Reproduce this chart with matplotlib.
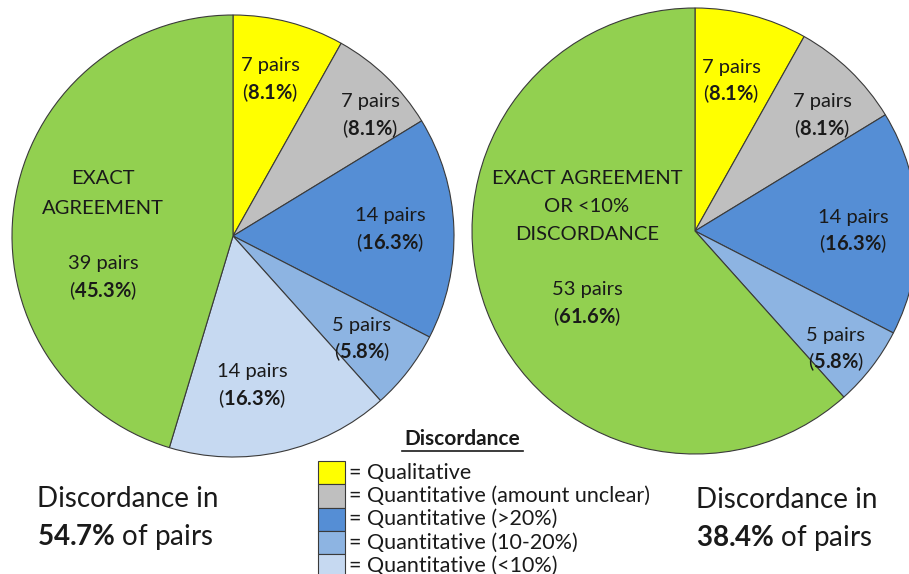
import matplotlib.pyplot as plt
from matplotlib.patches import Rectangle

plt.rcParams['font.family'] = ['Lato', 'DejaVu Sans']
plt.rcParams['mathtext.fontset'] = 'custom'
plt.rcParams['mathtext.rm'] = 'Lato'
plt.rcParams['mathtext.bf'] = 'Lato:bold'

# dados
categorias = ['Qualitative', 'Quantitative (amount unclear)', 'Quantitative (>20%)',
              'Quantitative (10-20%)', 'Quantitative (<10%)', 'Exact']
cores = ['#FFFF00', '#BFBFBF', '#558ED5', '#8DB4E2', '#C6D9F1', '#92D050']
pares_esq = [7, 7, 14, 5, 14, 39]
pct_esq = ['8.1', '8.1', '16.3', '5.8', '16.3', '45.3']
pares_dir = [7, 7, 14, 5, 53]
pct_dir = ['8.1', '8.1', '16.3', '5.8', '61.6']
cores_dir = ['#FFFF00', '#BFBFBF', '#558ED5', '#8DB4E2', '#92D050']
legenda = ['= Qualitative', '= Quantitative (amount unclear)', '= Quantitative (>20%)',
           '= Quantitative (10-20%)', '= Quantitative (<10%)']

W, H = 909, 574
fig = plt.figure(figsize=(W / 100, H / 100), dpi=100)
ax = fig.add_axes([0, 0, 1, 1])

ax.pie(pares_esq, colors=cores, startangle=90, counterclock=False,
       center=(233, H - 236), radius=221,
       wedgeprops=dict(edgecolor='#3a3a3a', linewidth=0.8))
ax.pie(pares_dir, colors=cores_dir, startangle=90, counterclock=False,
       center=(695, H - 231), radius=223,
       wedgeprops=dict(edgecolor='#3a3a3a', linewidth=0.8))
ax.set_xlim(0, W)
ax.set_ylim(0, H)
ax.set_aspect('equal')
ax.axis('off')

fs = 14.5
cor_txt = '#1a1a1a'


def rotulo(x, y, n, p):
    ax.text(x, H - y, f'{n} pairs', ha='center', va='center', fontsize=fs, color=cor_txt)
    ax.text(x, H - y - 27, '(' + r'$\mathbf{' + p + r'\%}$' + ')', ha='center', va='center',
            fontsize=fs, color=cor_txt)


# rotulos pizza esquerda
pos_esq = [(270, 66), (370, 102), (390, 216), (362, 325), (252, 372)]
for (x, y), n, p in zip(pos_esq, pares_esq, pct_esq):
    rotulo(x, y, n, p)
ax.text(103, H - 178, 'EXACT', ha='center', va='center', fontsize=fs, color=cor_txt)
ax.text(103, H - 208, 'AGREEMENT', ha='center', va='center', fontsize=fs, color=cor_txt)
rotulo(103, 264, pares_esq[5], pct_esq[5])

# rotulos pizza direita
pos_dir = [(731, 67), (822, 102), (853, 217), (836, 335)]
for (x, y), n, p in zip(pos_dir, pares_dir, pct_dir):
    rotulo(x, y, n, p)
for y, s in [(179, 'EXACT AGREEMENT'), (207, 'OR <10%'), (234, 'DISCORDANCE')]:
    ax.text(587, H - y, s, ha='center', va='center', fontsize=fs, color=cor_txt)
rotulo(587, 290, pares_dir[4], pct_dir[4])

# textos de baixo
fb = 20
ax.text(37, H - 499, 'Discordance in', ha='left', va='center', fontsize=fb, color=cor_txt)
ax.text(37, H - 537, r'$\mathbf{54.7\%}$' + ' of pairs', ha='left', va='center', fontsize=fb, color=cor_txt)
ax.text(696, H - 500, 'Discordance in', ha='left', va='center', fontsize=fb, color=cor_txt)
ax.text(696, H - 538, r'$\mathbf{38.4\%}$' + ' of pairs', ha='left', va='center', fontsize=fb, color=cor_txt)

# legenda
ax.text(462, H - 439, 'Discordance', ha='center', va='center', fontsize=15,
        fontweight='bold', color=cor_txt)
ax.plot([402, 523], [H - 451, H - 451], color=cor_txt, lw=1.2)
topo = 461
alt = 23.3
for i, (c, s) in enumerate(zip(cores[:5], legenda)):
    y0 = topo + i * alt
    ax.add_patch(Rectangle((318, H - y0 - alt), 27, alt, facecolor=c,
                           edgecolor='#3a3a3a', linewidth=0.8, clip_on=False))
    ax.text(349, H - y0 - alt / 2, s, ha='left', va='center', fontsize=15.5, color=cor_txt)

plt.savefig('out.png', dpi=100)
